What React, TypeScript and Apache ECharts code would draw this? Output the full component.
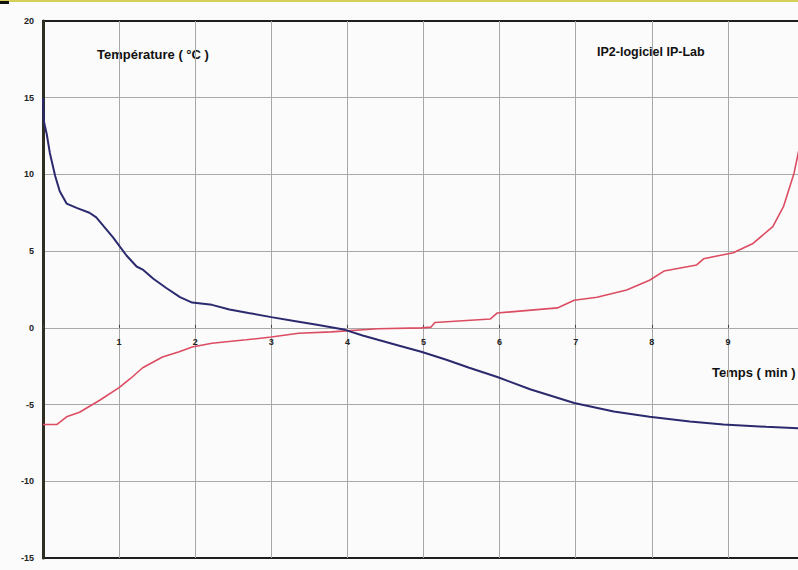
import React, { useEffect, useRef } from "react";
import * as echarts from "echarts";

// Time (min) and temperature (°C) readings
const blueTime = [0, 0.01, 0.05, 0.09, 0.16, 0.22, 0.31, 0.45, 0.61, 0.7, 0.92, 1.1, 1.23, 1.31, 1.45, 1.62, 1.8, 1.96, 2.22, 2.45, 2.7, 3.0, 3.3, 3.6, 3.97, 4.2, 4.4, 4.67, 4.97, 5.3, 5.6, 5.97, 6.4, 6.98, 7.5, 7.97, 8.5, 8.94, 9.5, 9.95];
const blueTemp = [15, 13.5, 12.6, 11.4, 9.9, 8.9, 8.1, 7.8, 7.5, 7.2, 5.9, 4.7, 4.0, 3.8, 3.2, 2.6, 2.0, 1.65, 1.5, 1.2, 0.97, 0.7, 0.45, 0.2, -0.13, -0.5, -0.78, -1.15, -1.56, -2.08, -2.6, -3.2, -4.0, -4.9, -5.45, -5.8, -6.1, -6.3, -6.45, -6.55];

const redTime = [0, 0.18, 0.31, 0.48, 0.75, 1.0, 1.15, 1.31, 1.57, 1.79, 1.96, 2.22, 2.67, 3.0, 3.36, 3.79, 4.4, 4.97, 5.1, 5.15, 5.88, 5.97, 6.76, 6.98, 7.28, 7.67, 7.97, 8.16, 8.59, 8.68, 9.07, 9.33, 9.59, 9.73, 9.87, 9.95];
const redTemp = [-6.3, -6.3, -5.8, -5.5, -4.7, -3.9, -3.3, -2.6, -1.9, -1.56, -1.25, -1.0, -0.78, -0.6, -0.35, -0.26, -0.06, 0, 0.05, 0.35, 0.58, 0.97, 1.3, 1.8, 2.0, 2.47, 3.1, 3.7, 4.1, 4.5, 4.9, 5.5, 6.6, 7.9, 10.1, 12];

const xTicks = [0, 1, 2, 3, 4, 5, 6, 7, 8, 9, 10];
const yTicks = [-15, -10, -5, 0, 5, 10, 15, 20];

const yLabel = "Température ( °C )";
const xLabel = "Temps ( min )";
const sourceLabel = "IP2-logiciel IP-Lab";

const W = 798;
const H = 570;
const GRID = { left: 43, top: 21, bottom: 12, right: -6 };

export default function App() {
  const ref = useRef<HTMLDivElement>(null);
  useEffect(() => {
    if (!ref.current) return;
    const chart = echarts.init(ref.current, null, { renderer: "svg" });
    const font = "Arial, 'Liberation Sans', sans-serif";
    const yMin = yTicks[0];
    const yMax = yTicks[yTicks.length - 1];
    const plotH = H - GRID.top - GRID.bottom;
    // move the labelled x axis up from the bottom edge to the 0 °C line
    const zeroOffset = -((0 - yMin) / (yMax - yMin)) * plotH;
    chart.setOption({
      animation: false,
      backgroundColor: "#fbfbfb",
      grid: {
        ...GRID,
        show: true,
        borderColor: "#1e1e1e",
        borderWidth: 2,
        outerBoundsMode: "none",
        containLabel: false,
      },
      xAxis: {
        type: "value",
        position: "bottom",
        offset: zeroOffset,
        min: xTicks[0],
        max: xTicks[xTicks.length - 1],
        interval: 1,
        axisLine: { show: false, onZero: false },
        axisTick: { show: true, inside: true, length: 3, lineStyle: { color: "#444" } },
        axisLabel: {
          show: true,
          margin: 10,
          fontSize: 9,
          fontWeight: "bold",
          color: "#222",
          fontFamily: font,
          formatter: (v: number) => (v === 0 || v === 10 ? "" : String(v)),
        },
        splitLine: {
          show: true,
          showMinLine: false,
          showMaxLine: false,
          lineStyle: { color: "#a8a8a8", width: 1 },
        },
      },
      yAxis: {
        type: "value",
        min: yMin,
        max: yMax,
        interval: 5,
        axisLine: { show: true, onZero: false, lineStyle: { color: "#2e2e22", width: 3 } },
        axisTick: { show: false },
        axisLabel: {
          show: true,
          margin: 9,
          fontSize: 9,
          fontWeight: "bold",
          color: "#222",
          fontFamily: font,
        },
        splitLine: {
          show: true,
          showMinLine: false,
          showMaxLine: false,
          lineStyle: { color: "#a8a8a8", width: 1 },
        },
      },
      series: [
        {
          type: "line",
          data: blueTime.map((t, i) => [t, blueTemp[i]]),
          showSymbol: false,
          smooth: false,
          lineStyle: { color: "#2b2a6e", width: 2 },
          z: 3,
        },
        {
          type: "line",
          data: redTime.map((t, i) => [t, redTemp[i]]),
          showSymbol: false,
          smooth: false,
          lineStyle: { color: "#dc4c62", width: 1.6 },
          z: 2,
        },
      ],
      graphic: [
        {
          type: "line",
          shape: { x1: 0, y1: 1, x2: W, y2: 1 },
          style: { stroke: "#c8c020", lineWidth: 1.5 },
        },
        {
          type: "rect",
          shape: { x: 0, y: 1, width: 9, height: 3 },
          style: { fill: "#111" },
        },
        {
          type: "text",
          left: 97,
          top: 48,
          style: { text: yLabel, fontSize: 13, fontWeight: "bold", fill: "#111", fontFamily: font },
        },
        {
          type: "text",
          left: 597,
          top: 45,
          style: { text: sourceLabel, fontSize: 12.5, fontWeight: "bold", fill: "#111", fontFamily: font },
        },
        {
          type: "text",
          left: 712,
          top: 366,
          style: { text: xLabel, fontSize: 13, fontWeight: "bold", fill: "#111", fontFamily: font },
        },
      ],
    });
    return () => chart.dispose();
  }, []);
  return (
    <div
      ref={ref}
      style={{ position: "fixed", left: 0, top: 0, width: W, height: H }}
    />
  );
}
